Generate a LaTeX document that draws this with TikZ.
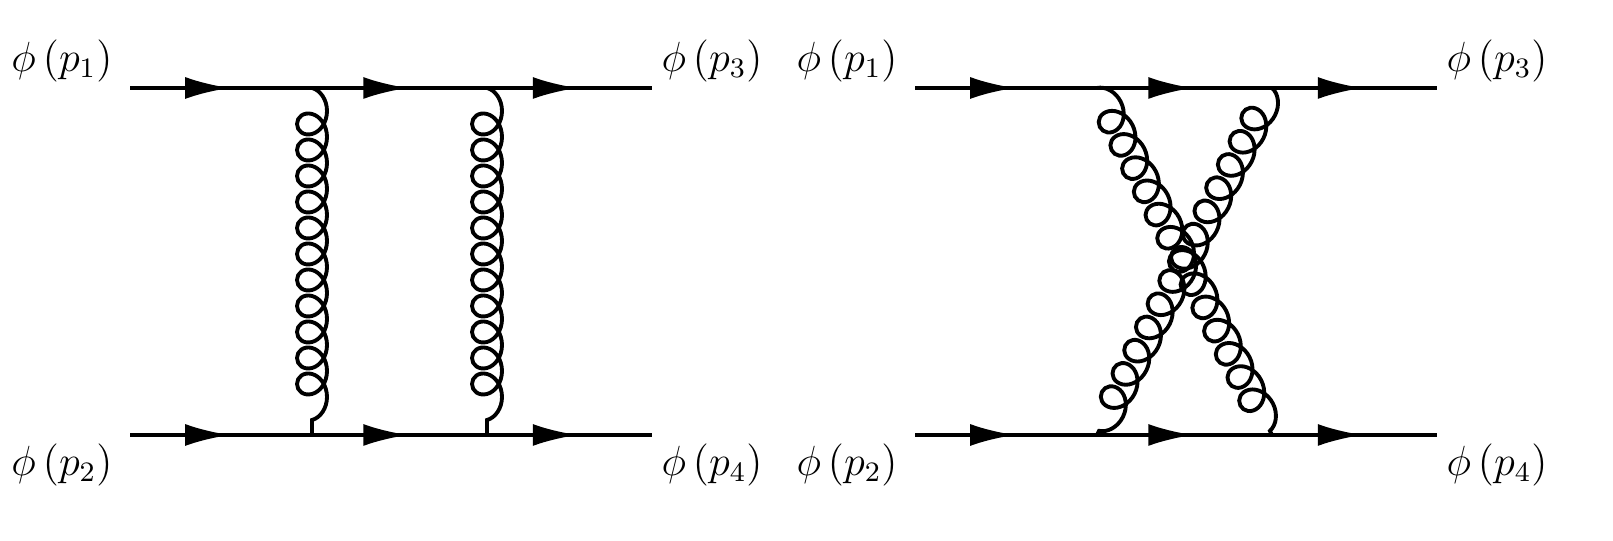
\documentclass[tikz,border=0pt]{standalone}
\usetikzlibrary{decorations.pathmorphing,decorations.markings,arrows.meta}
\tikzset{
    % fermion line with arrow in the middle
    fermion/.style={
           line width=1.1pt,
           postaction={decorate},
           decoration={markings,
             mark=at position 0.55 with {\arrow{Latex[length=4.5mm,width=2.2mm]}}}},
    % gluon line
    gluon/.style={
           line width=1.1pt,
           decorate,
           decoration={coil, amplitude=1.5mm, segment length=2.6mm, aspect=1.1}},
    lbl/.style={font=\large}
}
\begin{document}
\begin{tikzpicture}
 \useasboundingbox (0,0) rectangle (16.13,5.41);
 % box diagram
 \coordinate (a1) at (1.30,4.53);
 \coordinate (t1) at (3.12,4.53);
 \coordinate (t2) at (4.87,4.53);
 \coordinate (a3) at (6.52,4.53);
 \coordinate (a2) at (1.30,1.06);
 \coordinate (b1) at (3.12,1.06);
 \coordinate (b2) at (4.87,1.06);
 \coordinate (a4) at (6.52,1.06);
 \node [lbl] (p1) at (0.62,4.80) {$\phi\,(p_1)$};
 \node [lbl] (p2) at (0.62,0.76) {$\phi\,(p_2)$};
 \node [lbl] (p3) at (7.12,4.80) {$\phi\,(p_3)$};
 \node [lbl] (p4) at (7.12,0.76) {$\phi\,(p_4)$};
 \draw [fermion] (a1) -- (t1);
 \draw [fermion] (t1) -- (t2);
 \draw [fermion] (t2) -- (a3);
 \draw [fermion] (a2) -- (b1);
 \draw [fermion] (b1) -- (b2);
 \draw [fermion] (b2) -- (a4);
 \draw [gluon] (t1) -- (b1);
 \draw [gluon] (t2) -- (b2);

 % crossed diagram
 \coordinate (c1) at (9.15,4.53);
 \coordinate (u1) at (10.97,4.53);
 \coordinate (u2) at (12.72,4.53);
 \coordinate (c3) at (14.37,4.53);
 \coordinate (c2) at (9.15,1.06);
 \coordinate (d1) at (10.97,1.06);
 \coordinate (d2) at (12.72,1.06);
 \coordinate (c4) at (14.37,1.06);
 \node [lbl] (q1) at (8.47,4.80) {$\phi\,(p_1)$};
 \node [lbl] (q2) at (8.47,0.76) {$\phi\,(p_2)$};
 \node [lbl] (q3) at (14.97,4.80) {$\phi\,(p_3)$};
 \node [lbl] (q4) at (14.97,0.76) {$\phi\,(p_4)$};
 \draw [fermion] (c1) -- (u1);
 \draw [fermion] (u1) -- (u2);
 \draw [fermion] (u2) -- (c3);
 \draw [fermion] (c2) -- (d1);
 \draw [fermion] (d1) -- (d2);
 \draw [fermion] (d2) -- (c4);
 \draw [gluon] (u1) -- (d2);
 \draw [gluon] (u2) -- (d1);
\end{tikzpicture}
\end{document}
